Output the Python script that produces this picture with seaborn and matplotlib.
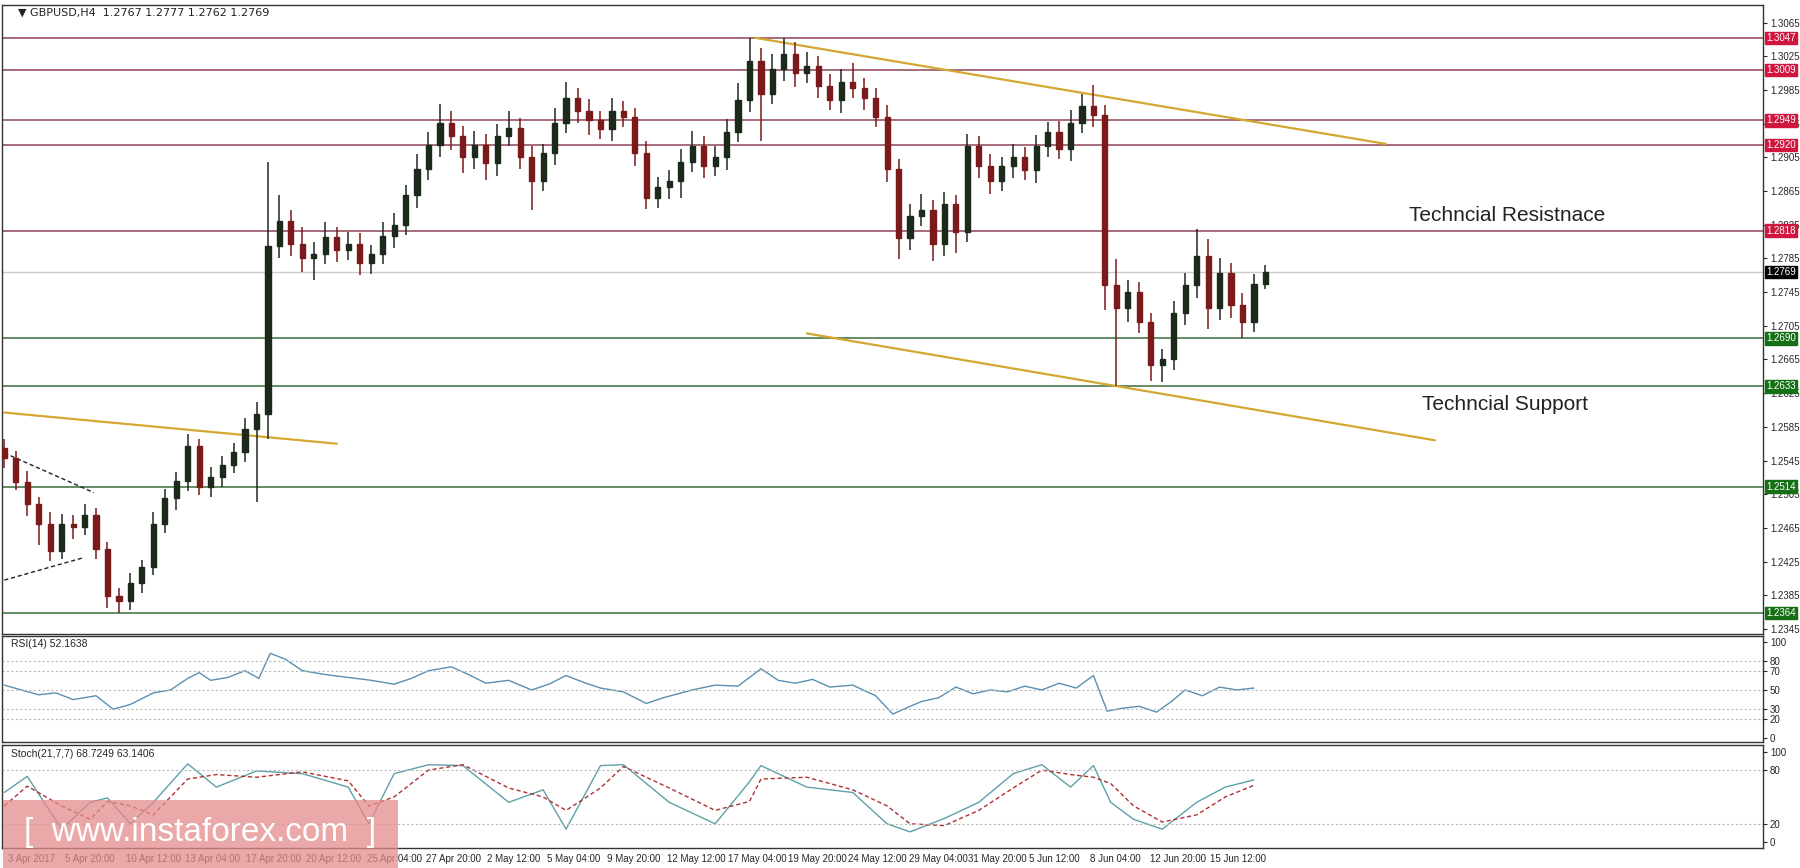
import numpy as np
import pandas as pd
import matplotlib
matplotlib.use("Agg")
import matplotlib.pyplot as plt
import seaborn as sns

# H4-ish candles, x in chart units (~0.87 px)
closes = [1.2548, 1.2520, 1.2493, 1.2470, 1.2438, 1.2470, 1.2466, 1.2480, 1.2440, 1.2384,
          1.2378, 1.2400, 1.2418, 1.2470, 1.2500, 1.2521, 1.2562, 1.2514, 1.2525, 1.2540,
          1.2555, 1.2582, 1.2600, 1.2800, 1.2830, 1.2802, 1.2785, 1.2790, 1.2810, 1.2795,
          1.2802, 1.2780, 1.2790, 1.2812, 1.2825, 1.2860, 1.2891, 1.2920, 1.2946, 1.2930,
          1.2905, 1.2920, 1.2898, 1.2930, 1.2940, 1.2905, 1.2877, 1.2910, 1.2946, 1.2975,
          1.2960, 1.2950, 1.2939, 1.2960, 1.2953, 1.2910, 1.2857, 1.2870, 1.2877, 1.2900,
          1.2918, 1.2895, 1.2905, 1.2935, 1.2973, 1.3020, 1.2980, 1.3010, 1.3028, 1.3005,
          1.3014, 1.2990, 1.2973, 1.2995, 1.2987, 1.2975, 1.2953, 1.2891, 1.2809, 1.2835,
          1.2843, 1.2802, 1.2850, 1.2816, 1.2918, 1.2895, 1.2877, 1.2895, 1.2905, 1.2890,
          1.2918, 1.2935, 1.2915, 1.2946, 1.2966, 1.2955, 1.2754, 1.2726, 1.2745, 1.2710,
          1.2658, 1.2665, 1.2720, 1.2754, 1.2788, 1.2726, 1.2768, 1.2730, 1.2710, 1.2755,
          1.2769]
first_open = 1.2560
wick_up = [10, 8, 12, 9, 14, 11, 10, 13, 9, 8, 10, 12, 9, 14, 11, 10, 15, 9, 12, 10,
           11, 13, 14, 100, 30, 12, 20, 14, 18, 12, 15, 13, 11, 16, 14, 12, 18, 15, 22, 14,
           12, 16, 13, 15, 20, 12, 14, 11, 18, 20, 12, 14, 10, 15, 12, 11, 14, 12, 13, 15,
           18, 12, 14, 16, 20, 27, 15, 18, 19, 14, 16, 12, 14, 15, 22, 12, 13, 14, 12, 15,
           18, 12, 14, 10, 15, 12, 14, 11, 16, 12, 14, 12, 13, 15, 14, 25, 12, 30, 14, 12,
           10, 12, 15, 14, 32, 20, 18, 12, 14, 12, 8]
wick_dn = [12, 10, 14, 25, 12, 10, 14, 9, 12, 14, 14, 10, 12, 9, 11, 14, 12, 10, 12, 11,
           10, 12, 86, 30, 15, 14, 16, 25, 12, 14, 12, 15, 13, 12, 14, 12, 15, 13, 14, 16,
           18, 14, 20, 15, 12, 14, 35, 12, 14, 12, 14, 18, 12, 14, 12, 15, 13, 12, 14, 20,
           12, 14, 12, 15, 12, 14, 55, 12, 14, 16, 12, 14, 12, 15, 12, 14, 12, 15, 25, 14,
           12, 20, 14, 25, 12, 14, 16, 12, 14, 12, 15, 13, 12, 14, 12, 14, 30, 93, 16, 14,
           18, 20, 12, 14, 16, 25, 14, 16, 20, 12, 6]

levels_red = [1.3047, 1.3009, 1.2949, 1.2920, 1.2818]
levels_green = [1.2690, 1.2633, 1.2514, 1.2364]
last_price = 1.2769
price_ticks = [1.3065, 1.3025, 1.2985, 1.2945, 1.2905, 1.2865, 1.2825, 1.2785, 1.2745,
               1.2705, 1.2665, 1.2625, 1.2585, 1.2545, 1.2505, 1.2465, 1.2425, 1.2385, 1.2345]

# trend lines: (x0, p0, x1, p1)
gold_lines = [(655, 1.3047, 1205, 1.2921), (700, 1.2696, 1248, 1.2569), (0, 1.2602, 290, 1.2565)]
dash_lines = [(0, 1.2554, 78, 1.2507), (0, 1.2403, 70, 1.2430)]

rsi_x = [0, 15, 30, 45, 60, 80, 95, 110, 130, 145, 160, 170, 180, 195, 210, 222, 232, 245,
         260, 280, 300, 320, 340, 355, 370, 390, 405, 420, 440, 460, 475, 490, 505, 520,
         540, 560, 575, 600, 620, 640, 660, 675, 690, 705, 720, 740, 760, 775, 790, 800,
         815, 830, 845, 860, 875, 890, 905, 920, 935, 950, 962, 975, 990, 1005, 1018,
         1030, 1045, 1060, 1075, 1090]
rsi_v = [55, 50, 45, 47, 40, 44, 30, 35, 47, 50, 62, 68, 60, 63, 70, 62, 88, 82,
         70, 66, 63, 60, 56, 62, 70, 74, 66, 57, 60, 50, 56, 65, 58, 52,
         48, 36, 42, 50, 55, 54, 72, 60, 57, 61, 53, 55, 44, 25, 33, 38,
         42, 53, 46, 50, 48, 54, 50, 57, 52, 65, 28, 31, 33, 27, 38,
         50, 44, 53, 50, 52]

st_x = [0, 20, 50, 75, 90, 110, 130, 160, 185, 220, 260, 300, 318, 340, 370, 400, 440, 470,
        490, 520, 540, 580, 620, 650, 660, 700, 740, 770, 790, 820, 850, 880, 905, 930, 950,
        965, 985, 1010, 1040, 1065, 1090]
st_main = [55, 73, 14, 44, 49, 20, 44, 87, 61, 79, 76, 61, 20, 76, 86, 85, 44, 58,
           14, 85, 86, 44, 20, 67, 85, 61, 55, 20, 11, 26, 44, 76, 86, 61, 85,
           44, 25, 14, 44, 61, 69]
st_sig = [40, 62, 40, 25, 45, 40, 30, 70, 75, 72, 78, 68, 40, 50, 80, 86, 60, 50,
          35, 60, 84, 60, 35, 45, 70, 72, 58, 40, 20, 18, 35, 60, 80, 75, 72,
          65, 40, 22, 30, 50, 63]

x_tick_pos = [3, 53, 106, 158, 211, 263, 316, 368, 421, 473, 526, 578, 631, 684, 736, 789,
              841, 894, 947, 999, 1052]
x_tick_lab = ["3 Apr 2017", "5 Apr 20:00", "10 Apr 12:00", "13 Apr 04:00", "17 Apr 20:00",
              "20 Apr 12:00", "25 Apr 04:00", "27 Apr 20:00", "2 May 12:00", "5 May 04:00",
              "9 May 20:00", "12 May 12:00", "17 May 04:00", "19 May 20:00", "24 May 12:00",
              "29 May 04:00", "31 May 20:00", "5 Jun 12:00", "8 Jun 04:00", "12 Jun 20:00",
              "15 Jun 12:00"]

sns.set_style("white")
plt.rcParams['font.family'] = ['Liberation Sans', 'DejaVu Sans']

W, H = 1800, 868
fig = plt.figure(figsize=(18, 8.68), dpi=100)

def frac(x0, y0, x1, y1):
    return [x0 / W, 1 - y1 / H, (x1 - x0) / W, (y1 - y0) / H]

ax = fig.add_axes(frac(2, 5, 1763, 634))
ax_rsi = fig.add_axes(frac(2, 636, 1763, 742))
ax_st = fig.add_axes(frac(2, 745, 1763, 848))

XMIN, XMAX = -2, 1534
ymin, ymax = 1.2339, 1.3086

# candles
xs = np.arange(len(closes)) * 10
opens = [first_open] + closes[:-1]
df = pd.DataFrame({"x": xs, "open": opens, "close": closes})
df["high"] = df[["open", "close"]].max(axis=1) + np.array(wick_up) * 0.0001
df["low"] = df[["open", "close"]].min(axis=1) - np.array(wick_dn) * 0.0001
up = df["close"] >= df["open"]
cols = np.where(up, "#1c2a1c", "#7a1a1a")
ax.vlines(df["x"], df["low"], df["high"], colors=cols, lw=1.1, zorder=3)
body = (df["close"] - df["open"]).abs().clip(lower=0.0002)
ax.bar(df["x"], body, bottom=df[["open", "close"]].min(axis=1), width=4.5,
       color=cols, edgecolor=cols, zorder=4)

for lv in levels_red:
    ax.axhline(lv, color="#a0606e", lw=1.3, zorder=1)
for lv in levels_green:
    ax.axhline(lv, color="#4a7a4a", lw=1.2, zorder=1)
ax.axhline(last_price, color="#cccccc", lw=1.0, zorder=1)

for x0, p0, x1, p1 in gold_lines:
    ax.plot([x0, x1], [p0, p1], color="#d4a830", lw=1.6, zorder=2)
for x0, p0, x1, p1 in dash_lines:
    ax.plot([x0, x1], [p0, p1], color="#222222", lw=1.0, ls=(0, (3, 2)), zorder=2)

ax.text(1225, 1.2836, "Techncial Resistnace", fontsize=15, color="#222222", va="center")
ax.text(1237, 1.2611, "Techncial Support", fontsize=15, color="#222222", va="center")
ax.text(12, 1.3077, "\u25bc GBPUSD,H4  1.2767 1.2777 1.2762 1.2769", fontsize=8,
        color="#222222", va="center", family=['DejaVu Sans'])

ax.set_xlim(XMIN, XMAX)
ax.set_ylim(ymin, ymax)
ax.yaxis.tick_right()
ax.set_yticks(price_ticks)
ax.set_yticklabels(["%.4f" % t for t in price_ticks], fontsize=7)
ax.set_xticks([])

def tag(a, y, text, color):
    a.text(1.002, y, text, transform=a.get_yaxis_transform(), fontsize=7, color="white",
           va="center", ha="left", zorder=10,
           bbox=dict(boxstyle="square,pad=0.12", fc=color, ec=color))

for lv in levels_red:
    tag(ax, lv, "%.4f" % lv, "#d0163f")
for lv in levels_green:
    tag(ax, lv, "%.4f" % lv, "#157015")
tag(ax, last_price, "%.4f" % last_price, "#000000")

# RSI
sns.lineplot(x=rsi_x, y=rsi_v, ax=ax_rsi, color="#5b8fb0", lw=1.0)
for lv in [80, 70, 50, 30, 20]:
    ax_rsi.axhline(lv, color="#bbbbbb", lw=0.8, ls=(0, (2, 2)))
ax_rsi.set_ylim(-4, 106)
ax_rsi.set_xlim(XMIN, XMAX)
ax_rsi.yaxis.tick_right()
ax_rsi.set_yticks([100, 80, 70, 50, 30, 20, 0])
ax_rsi.tick_params(labelsize=7)
ax_rsi.set_xticks([])
ax_rsi.text(6, 103, "RSI(14) 52.1638", fontsize=7.5, va="top")

# Stochastic
sns.lineplot(x=st_x, y=st_main, ax=ax_st, color="#5ea0a8", lw=1.0)
sns.lineplot(x=st_x, y=st_sig, ax=ax_st, color="#b03030", lw=1.0, linestyle=(0, (3, 2)))
for lv in [80, 20]:
    ax_st.axhline(lv, color="#bbbbbb", lw=0.8, ls=(0, (2, 2)))
ax_st.set_ylim(-7, 108)
ax_st.set_xlim(XMIN, XMAX)
ax_st.yaxis.tick_right()
ax_st.set_yticks([100, 80, 20, 0])
ax_st.tick_params(labelsize=7)
ax_st.set_xticks(x_tick_pos)
ax_st.set_xticklabels(x_tick_lab, fontsize=7, ha="left")
ax_st.tick_params(axis="x", length=3, pad=1)
ax_st.text(6, 104, "Stoch(21,7,7) 68.7249 63.1406", fontsize=7.5, va="top")

for a in (ax, ax_rsi, ax_st):
    for s in a.spines.values():
        s.set_color("#333333")
        s.set_linewidth(1)
    a.tick_params(axis="y", length=3, pad=2)

# watermark
fig.patches.append(plt.Rectangle((3 / W, 0), 395 / W, 68 / H, transform=fig.transFigure,
                                 fc="#e48b8b", alpha=0.75, ec="none", zorder=20))
fig.text(200 / W, 1 - 833 / H, "[  www.instaforex.com  ]", fontsize=24, color="white",
         ha="center", va="center", zorder=21)

fig.savefig("out.png", dpi=100)
